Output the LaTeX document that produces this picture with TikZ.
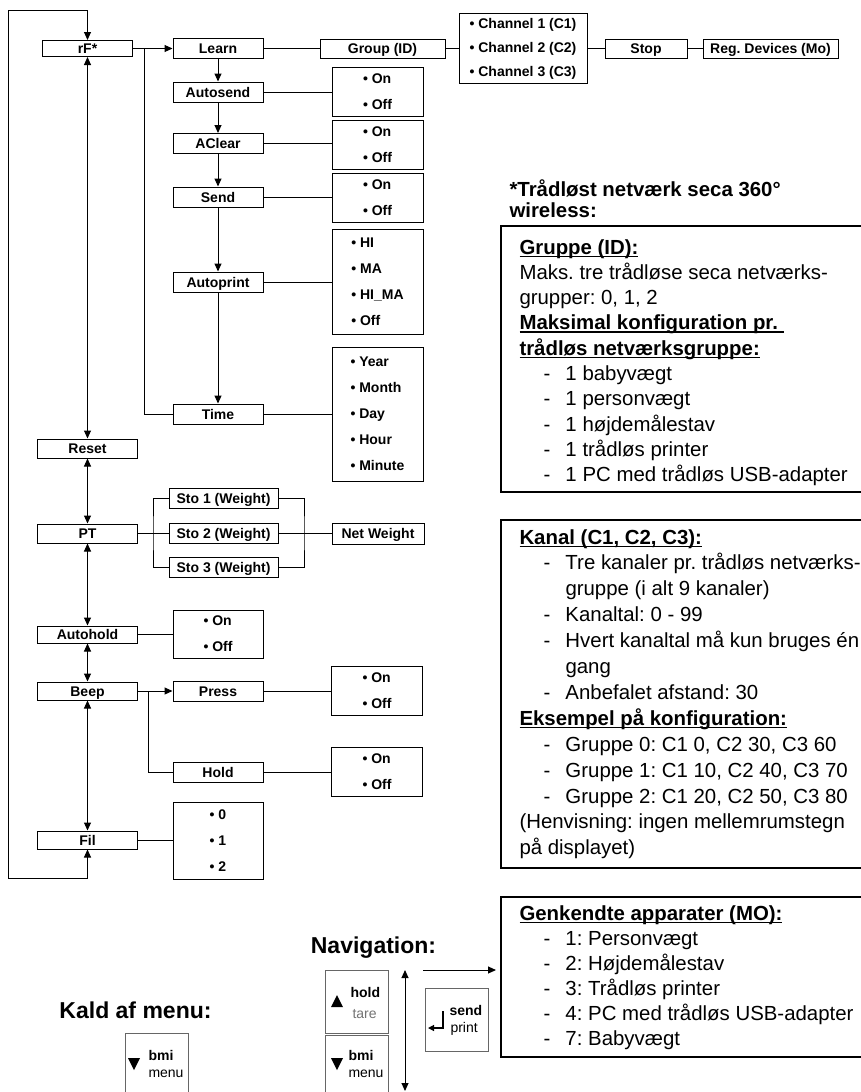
\documentclass[tikz,border=0pt]{standalone}
\usepackage{fontspec}
\setmainfont{Liberation Sans}
\usetikzlibrary{arrows.meta}
\frenchspacing
\newcommand{\boxfont}{\fontsize{14}{26}\selectfont\bfseries}
\newcommand{\headfont}{\fontsize{20.4}{21}\selectfont\bfseries}
\newcommand{\navfont}{\fontsize{23}{26}\selectfont\bfseries}
\newcommand{\keyfont}{\fontsize{14}{17}\selectfont}
\newcommand{\dashitem}[1]{\hspace*{24pt}\makebox[22pt][l]{-}#1}
\newcommand{\contline}[1]{\hspace*{46pt}#1}
\newsavebox{\ttlbox}
\newcommand{\ttl}[1]{\sbox{\ttlbox}{\bfseries #1}\rlap{\rule[-2.8pt]{\wd\ttlbox}{1.3pt}}\usebox{\ttlbox}}
\def\uptri(#1,#2){\fill (#1-6,#2+6) -- (#1+6,#2+6) -- (#1,#2-6) -- cycle;}
\def\downtri(#1,#2){\fill (#1-6,#2-6) -- (#1+6,#2-6) -- (#1,#2+6) -- cycle;}

\begin{document}
\begin{tikzpicture}[x=1pt, y=-1pt, line width=1pt,
	every node/.style={inner sep=0pt},
	menubox/.style={draw, minimum width=90, minimum height=20, text height=11, text depth=1, font=\boxfont},
	colbox/.style={menubox, minimum width=100, minimum height=18},
	optbox/.style={draw, minimum width=91, align=left, font=\boxfont},
	arr/.style={-{Triangle[length=8pt,width=7pt]}},
	dbl/.style={{Triangle[length=8pt,width=7pt]}-{Triangle[length=8pt,width=7pt]}},
	infobox/.style={line width=1.6pt},
	infotext/.style={anchor=base west, align=left, font=\fontsize{20.4}{#1}\selectfont},
	headtext/.style={anchor=base west, align=left, font=\headfont},
	navtext/.style={font=\navfont},
	keytext/.style={anchor=base west, font=\keyfont},
	keyframe/.style={draw=black!60}]
	%%%%% START %%%%%
	\useasboundingbox (0,0) rectangle (861,1092);
	
	% main column
	\node[colbox, minimum width=90, minimum height=16] (rf) at (87.5,48.5) {rF*};
	\node[colbox, minimum height=19] (reset) at (87.5,448.5) {Reset};
	\node[colbox, minimum height=19] (pt) at (87.5,533.5) {PT};
	\node[colbox, minimum height=17] (autohold) at (87.5,634.5) {Autohold};
	\node[colbox] (beep) at (87.5,691) {Beep};
	\node[colbox] (fil) at (87.5,840) {Fil};
	
	\draw[dbl] (rf) -- (reset);
	\draw[dbl] (reset) -- (pt);
	\draw[dbl] (pt) -- (autohold);
	\draw[dbl] (autohold) -- (beep);
	\draw[dbl] (beep) -- (fil);
	\coordinate (loopbot) at (8,878);
	\coordinate (looptop) at (8,10);
	\draw[dbl] (fil.south) |- (loopbot) -- (looptop) -| (rf.north);
	
	% rF* sub menu
	\node[menubox] (learn) at (218,48.5) {Learn};
	\node[menubox] (autosend) at (218,92) {Autosend};
	\node[menubox] (aclear) at (218,143.5) {AClear};
	\node[menubox] (send) at (218,197) {Send};
	\node[menubox] (autoprint) at (218,282) {Autoprint};
	\node[menubox] (time) at (218,414) {Time};
	
	\node[menubox, minimum width=125, minimum height=19] (group) at (382.5,48.5) {Group (ID)};
	\node[optbox, minimum width=128, minimum height=70] (channel) at (523,48.5) {• Channel 1 (C1)\\[-2pt]• Channel 2 (C2)\\[-2pt]• Channel 3 (C3)};
	\node[menubox, minimum width=82, minimum height=19] (stop) at (646,48.5) {Stop};
	\node[menubox, minimum width=135, minimum height=19] (regdev) at (770.5,48.5) {Reg. Devices (Mo)};
	
	\node[optbox, minimum height=49] (autosendopt) at (377.5,91.5) {• On\\• Off};
	\node[optbox, minimum height=49] (aclearopt) at (377.5,144.5) {• On\\• Off};
	\node[optbox, minimum height=49] (sendopt) at (377.5,197.5) {• On\\• Off};
	\node[optbox, minimum height=105] (printopt) at (377.5,281.5) {• HI\\• MA\\• HI\_MA\\• Off};
	\node[optbox, minimum height=134] (timeopt) at (377.5,414) {• Year\\• Month\\• Day\\• Hour\\• Minute};
	
	\draw[arr] (rf) -- (learn);
	\coordinate (learnfork) at (144,48.5);
	\draw (learnfork) |- (time.west);
	\draw (learn) -- (group);
	\draw (group) -- (channel);
	\draw (channel) -- (stop);
	\draw (stop) -- (regdev);
	\draw[arr] (learn) -- (autosend);
	\draw[arr] (autosend) -- (aclear);
	\draw[arr] (aclear) -- (send);
	\draw[arr] (send) -- (autoprint);
	\draw[arr] (autoprint) -- (time);
	\draw (autosend.east) -- (autosend.east -| autosendopt.west);
	\draw (aclear.east) -- (aclear.east -| aclearopt.west);
	\draw (send.east) -- (send.east -| sendopt.west);
	\draw (autoprint.east) -- (autoprint.east -| printopt.west);
	\draw (time.east) -- (time.east -| timeopt.west);
	
	% PT weights
	\node[menubox, minimum width=109] (sto1) at (223.5,498.5) {Sto 1 (Weight)};
	\node[menubox, minimum width=109] (sto2) at (223.5,533.5) {Sto 2 (Weight)};
	\node[menubox, minimum width=109] (sto3) at (223.5,567) {Sto 3 (Weight)};
	\node[menubox, minimum width=92, minimum height=21] (netweight) at (378,533.5) {Net Weight};
	\coordinate (ptfork) at (153,533.5);
	\coordinate (netfork) at (304,533.5);
	\draw (pt) -- (sto2);
	\draw (sto1.west) -| (ptfork) |- (sto3.west);
	\draw (sto2) -- (netweight);
	\draw (sto1.east) -| (netfork) |- (sto3.east);
	
	% Autohold, Beep, Fil
	\node[optbox, minimum width=90, minimum height=48] (autoholdopt) at (218,634) {• On\\• Off};
	\draw (autohold.east) -- (autohold.east -| autoholdopt.west);
	
	\node[menubox] (press) at (218,691) {Press};
	\node[menubox] (hold) at (218,772.5) {Hold};
	\node[optbox, minimum height=49] (pressopt) at (377,690.5) {• On\\• Off};
	\node[optbox, minimum height=49] (holdopt) at (377,771.5) {• On\\• Off};
	\coordinate (beepfork) at (148,691);
	\draw[arr] (beep) -- (press);
	\draw (beepfork) |- (hold.west);
	\draw (press.east) -- (press.east -| pressopt.west);
	\draw (hold.east) -- (hold.east -| holdopt.west);
	
	\node[optbox, minimum width=90, minimum height=77] (filopt) at (218,840.5) {• 0\\• 1\\• 2};
	\draw (fil.east) -- (fil.east -| filopt.west);
	
	% notes (base = last line)
	\node[headtext] (wlhead) at (509,217.5) {*Trådløst netværk seca 360°\\wireless:};
	
	\draw[infobox] (501,226) rectangle (870,492);
	\node[infotext=25.3] (grouptext) at (519,481.7) {\ttl{Gruppe (ID):}\\
		Maks. tre trådløse seca netværks-\\
		grupper: 0, 1, 2\\
		\ttl{Maksimal konfiguration pr.\ }\\
		\ttl{trådløs netværksgruppe:}\\
		\dashitem{1 babyvægt}\\
		\dashitem{1 personvægt}\\
		\dashitem{1 højdemålestav}\\
		\dashitem{1 trådløs printer}\\
		\dashitem{1 PC med trådløs USB-adapter}};
	
	\draw[infobox] (501,520) rectangle (870,868);
	\node[infotext=25.9] (channeltext) at (519,854.8) {\ttl{Kanal (C1, C2, C3):}\\
		\dashitem{Tre kanaler pr. trådløs netværks-}\\
		\contline{gruppe (i alt 9 kanaler)}\\
		\dashitem{Kanaltal: 0 - 99}\\
		\dashitem{Hvert kanaltal må kun bruges én}\\
		\contline{gang}\\
		\dashitem{Anbefalet afstand: 30}\\
		\ttl{Eksempel på konfiguration:}\\
		\dashitem{Gruppe 0: C1 0, C2 30, C3 60}\\
		\dashitem{Gruppe 1: C1 10, C2 40, C3 70}\\
		\dashitem{Gruppe 2: C1 20, C2 50, C3 80}\\
		(Henvisning: ingen mellemrumstegn\\
		på displayet)};
	
	\draw[infobox] (501,897) rectangle (870,1057);
	\node[infotext=25] (devicetext) at (519,1045) {\ttl{Genkendte apparater (MO):}\\
		\dashitem{1: Personvægt}\\
		\dashitem{2: Højdemålestav}\\
		\dashitem{3: Trådløs printer}\\
		\dashitem{4: PC med trådløs USB-adapter}\\
		\dashitem{7: Babyvægt}};
	
	% keys
	\node[navtext] (navhead) at (373.5,948) {Navigation:};
	\node[navtext] (kaldhead) at (135.5,1010) {Kald af menu:};
	
	\draw[keyframe] (325,970) rectangle (388,1033);
	\draw[keyframe] (325,1035) rectangle (388,1100);
	\draw[keyframe] (425,988) rectangle (488,1051);
	\draw[keyframe] (125,1033) rectangle (188,1100);
	\uptri(337,1001)
	\downtri(337,1064)
	\downtri(134,1064)
	
	\node[keytext, font=\keyfont\bfseries] (holdlbl) at (350,997) {hold};
	\node[keytext, text=black!55] (tarelbl) at (352,1018) {tare};
	\node[keytext, font=\keyfont\bfseries] (navbmilbl) at (348,1060) {bmi};
	\node[keytext] (navmenulbl) at (348,1077) {menu};
	\node[keytext, font=\keyfont\bfseries] (sendlbl) at (449,1015) {send};
	\node[keytext] (printlbl) at (450,1032) {print};
	\node[keytext, font=\keyfont\bfseries] (bmilbl) at (148,1060) {bmi};
	\node[keytext] (menulbl) at (148,1077) {menu};
	
	\coordinate (navtop) at (405,970);
	\coordinate (navbot) at (405,1091);
	\draw[dbl] (navtop) -- (navbot);
	\coordinate (navfrom) at (423,970);
	\coordinate (navto) at (496,970);
	\draw[arr] (navfrom) -- (navto);
	\coordinate (retup) at (443,1011);
	\coordinate (retdn) at (443,1028);
	\coordinate (retend) at (428,1028);
	\draw[-{Triangle[length=6pt,width=6pt]}, line width=1.2pt] (retup) -- (retdn) -- (retend);
	%%%%% END %%%%%
\end{tikzpicture}
\end{document}
